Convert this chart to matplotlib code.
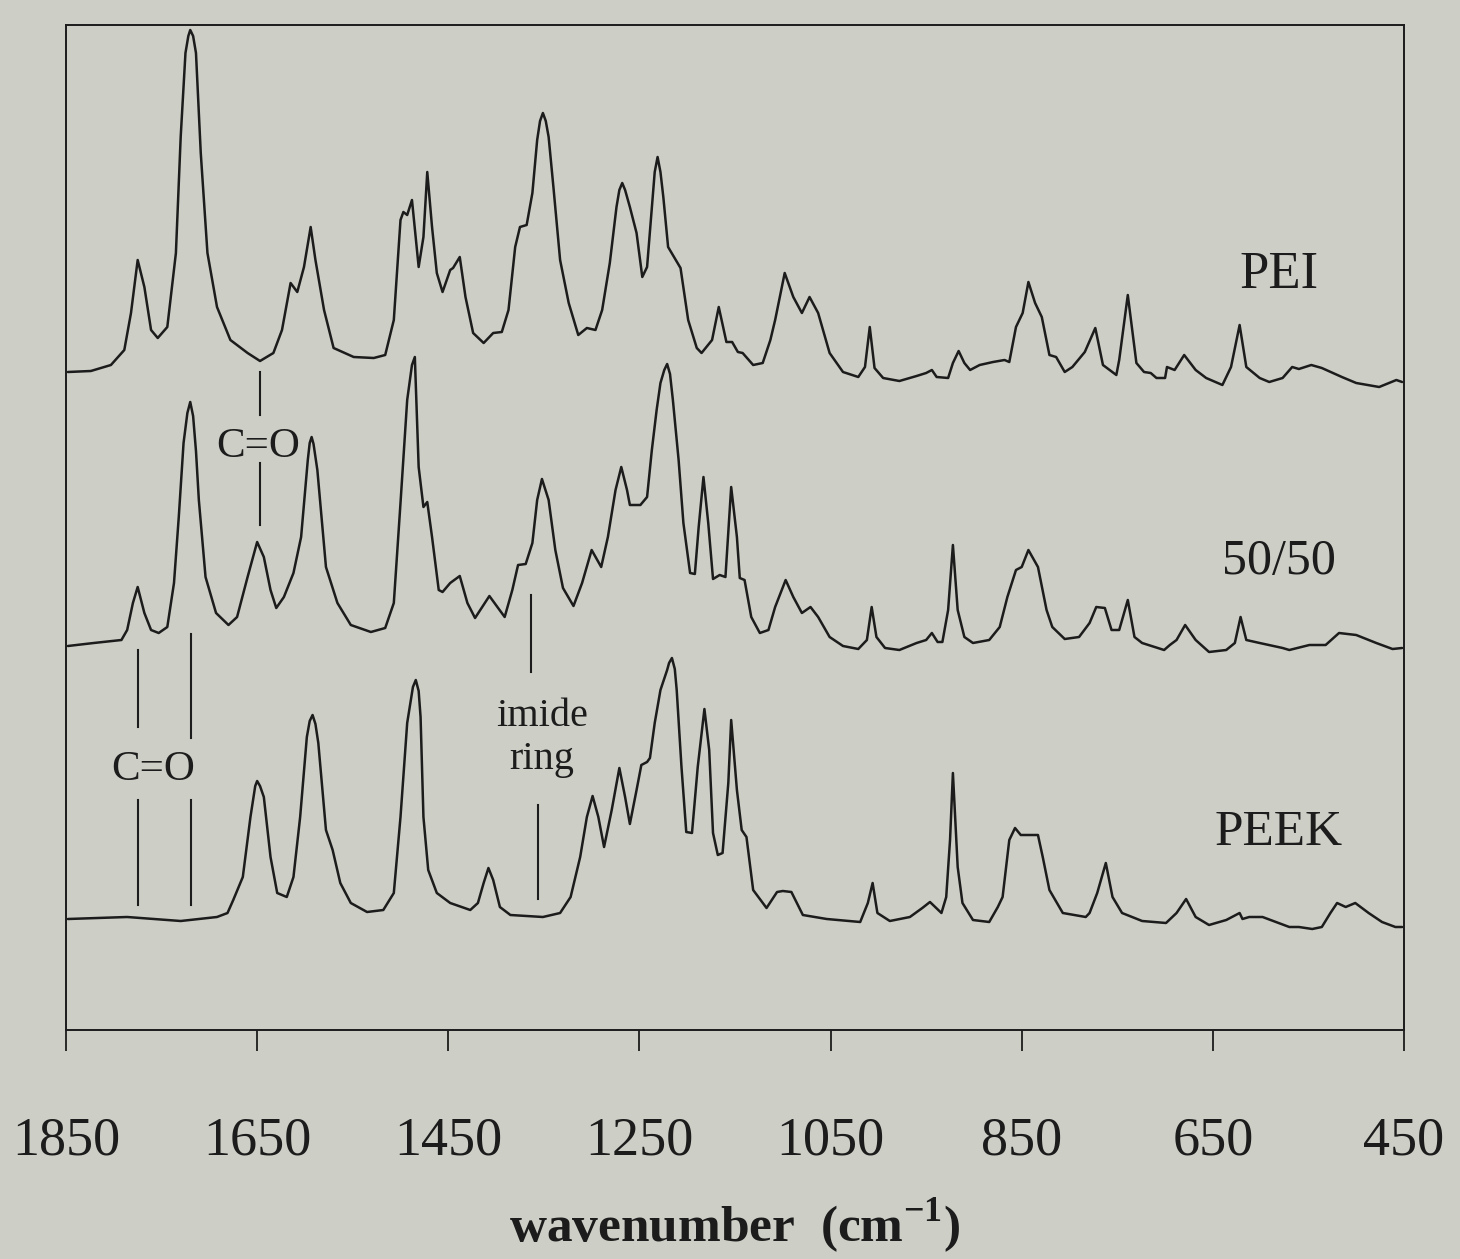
import matplotlib
matplotlib.use("Agg")
import matplotlib.pyplot as plt

# traced IR spectra: wavenumber (cm-1) and absorbance (arbitrary units, baseline = 0)
pei_wn = [1848, 1824, 1803, 1789, 1782, 1775, 1768, 1761, 1754, 1744, 1735, 1730, 1725, 1722, 1720, 1717, 1714,
          1709, 1702, 1692, 1678, 1660, 1647, 1633, 1624, 1615, 1608, 1601, 1594, 1589, 1580, 1570,
          1549, 1528, 1516, 1507, 1500, 1497, 1493, 1488, 1481, 1476, 1472, 1467, 1462, 1456, 1448,
          1445, 1438, 1432, 1424, 1413, 1403, 1394, 1387, 1380, 1375, 1368, 1362, 1357, 1354, 1351, 1348, 1345,
          1340, 1333, 1324, 1314, 1305, 1296, 1289, 1281, 1274, 1271, 1268, 1265, 1260, 1253, 1247, 1242, 1237,
          1234, 1231, 1228, 1225, 1220, 1207, 1199, 1190, 1185, 1174, 1167, 1159, 1153, 1147, 1142, 1131, 1121,
          1113, 1108, 1098, 1089, 1080, 1072, 1063, 1051, 1037, 1021, 1014, 1009, 1004, 995, 978,
          960, 950, 944, 939, 927, 922, 916, 910, 904, 894, 880, 868, 863, 856, 849, 843, 836, 829,
          821, 814, 805, 797, 784, 773, 765, 751, 748, 739, 730, 722, 715, 709, 700, 698, 690, 680,
          668, 657, 640, 631, 622, 615, 601, 591, 577, 567, 560, 547, 536, 515, 500, 476, 458, 452]
pei_abs = [0, 1, 7, 22, 59, 112, 85, 42, 34, 45, 119, 235, 319, 336, 342, 336, 319,
           219, 119, 65, 32, 19, 11, 19, 42, 89, 80, 105, 145, 112, 62, 24,
           15, 14, 17, 52, 152, 160, 157, 172, 105, 135, 200, 145, 99, 80, 102,
           104, 115, 75, 39, 29, 39, 40, 62, 125, 145, 147, 179, 232, 251, 259, 251, 235,
           185, 112, 69, 37, 44, 42, 62, 109, 165, 182, 189, 182, 165, 139, 95, 105, 165,
           200, 215, 200, 175, 125, 104, 52, 24, 19, 32, 65, 30, 30, 20, 19, 7, 9,
           32, 52, 99, 75, 59, 75, 59, 19, 0, -5, 5, 45, 4, -6, -9,
           -4, -1, 2, -5, -6, 9, 21, 9, 2, 7, 10, 12, 10, 45, 59, 90, 69, 55,
           17, 15, 0, 5, 20, 44, 7, -3, 12, 77, 9, 0, -1, -6, -6, 5, 2, 17,
           2, -6, -13, 5, 47, 5, -6, -10, -6, 5, 3, 7, 4, -5, -11, -15, -8, -10]

blend_wn = [1848, 1821, 1792, 1786, 1780, 1775, 1768, 1761, 1753, 1744, 1737, 1732, 1727, 1723, 1720, 1717, 1714,
            1711, 1704, 1693, 1680, 1671, 1660, 1650, 1643, 1636, 1630, 1622, 1612, 1604, 1597, 1595, 1593, 1591,
            1587, 1578, 1566, 1552, 1531, 1516, 1507, 1500, 1493, 1488, 1485, 1481, 1476, 1472, 1467,
            1460, 1456, 1448, 1438, 1430, 1422, 1407, 1391, 1383, 1377, 1369, 1362, 1357, 1352, 1345,
            1338, 1330, 1319, 1310, 1300, 1290, 1283, 1275, 1269, 1263, 1260, 1249, 1242, 1237, 1232,
            1228, 1224, 1221, 1218, 1215, 1209, 1204, 1197, 1192, 1188, 1183, 1178, 1173, 1166, 1160, 1154, 1148,
            1145, 1140, 1133, 1124, 1115, 1108, 1097, 1089, 1080, 1071, 1063, 1051, 1037, 1021, 1012,
            1007, 1002, 993, 978, 960, 950, 944, 938, 933, 927, 922, 917, 910, 901, 884, 873, 865,
            856, 850, 843, 833, 824, 818, 805, 790, 779, 772, 763, 756, 748, 739, 732, 724, 701, 695,
            688, 679, 668, 654, 636, 627, 621, 615, 601, 577, 570, 549, 532, 518, 500, 479, 462, 452]
blend_abs = [0, 3, 6, 16, 43, 59, 33, 16, 13, 19, 63, 129, 203, 233, 244, 230, 195,
             146, 69, 33, 21, 29, 69, 104, 89, 56, 38, 49, 73, 109, 186, 203, 209, 202,
             176, 79, 43, 21, 14, 18, 43, 143, 246, 281, 289, 179, 139, 144, 109,
             56, 54, 63, 70, 43, 28, 50, 29, 56, 81, 82, 103, 146, 167, 146,
             96, 58, 40, 63, 96, 79, 109, 156, 179, 156, 141, 141, 149, 196, 236,
             263, 276, 282, 272, 246, 186, 123, 73, 72, 119, 169, 123, 67, 71, 69, 159, 109,
             68, 66, 29, 13, 16, 39, 66, 49, 33, 39, 29, 9, 0, -3, 6,
             39, 9, -2, -4, 3, 6, 13, 4, 4, 36, 101, 36, 9, 3, 6, 19, 49,
             76, 79, 96, 79, 36, 19, 7, 9, 23, 39, 38, 16, 16, 46, 9, 3, -4, 1,
             6, 21, 6, -6, -4, 3, 29, 6, 3, -2, -4, 1, 1, 13, 11, 3, -3, -2]

peek_wn = [1848, 1786, 1730, 1692, 1681, 1675, 1665, 1657, 1652, 1650, 1647, 1643, 1636, 1629, 1619, 1612, 1605,
           1598, 1595, 1592, 1589, 1586, 1578, 1571, 1563, 1552, 1535, 1518, 1507, 1500, 1493, 1487, 1484, 1481,
           1479, 1476, 1471, 1462, 1448, 1427, 1419, 1413, 1408, 1403, 1396, 1385, 1351, 1333, 1322, 1312, 1305,
           1299, 1293, 1287, 1279, 1271, 1265, 1260, 1253, 1248, 1242, 1239, 1234, 1228, 1221, 1219, 1216, 1213,
           1211, 1206, 1201, 1195, 1189, 1182, 1177, 1173, 1168, 1163, 1157, 1154, 1148, 1143, 1138,
           1131, 1117, 1106, 1100, 1091, 1079, 1054, 1019, 1011, 1006, 1001, 988, 967, 954, 946,
           934, 929, 925, 922, 917, 912, 901, 884, 875, 870, 863, 857, 851, 833, 828, 821, 807,
           783, 779, 771, 762, 755, 745, 724, 699, 688, 678, 668, 654, 636, 622, 619, 612, 598,
           584, 570, 560, 546, 536, 527, 520, 511, 501, 487, 473, 459, 452]
peek_abs = [0, 2, -2, 2, 6, 19, 42, 102, 133, 138, 133, 122, 62, 26, 22, 42, 102,
            182, 198, 204, 195, 176, 89, 69, 36, 16, 7, 9, 26, 102, 196, 232, 239, 228,
            202, 102, 49, 26, 16, 9, 16, 36, 51, 39, 12, 4, 2, 6, 22, 62, 102,
            123, 102, 72, 109, 151, 122, 95, 129, 154, 157, 161, 196, 229, 249, 256, 261, 250,
            229, 152, 87, 86, 152, 210, 169, 86, 64, 66, 136, 199, 129, 89, 82,
            29, 11, 27, 28, 27, 4, 0, -3, 16, 36, 6, -2, 2, 11, 17,
            6, 22, 79, 146, 52, 16, -1, -3, 12, 22, 79, 91, 84, 84, 62, 29, 6,
            2, 6, 26, 56, 22, 6, -2, -4, 6, 20, 2, -6, -1, 6, 0, 2, 2,
            -3, -8, -8, -10, -8, 6, 16, 12, 16, 6, -3, -8, -8]

names = ["PEI", "50/50", "PEEK"]
offsets = [658, 384, 111]
ticks = [1850, 1650, 1450, 1250, 1050, 850, 650, 450]

BG = "#cdcec6"
INK = "#1c1c1c"

plt.rcParams["font.family"] = ["Liberation Serif", "DejaVu Serif"]
plt.rcParams["mathtext.fontset"] = "custom"
plt.rcParams["mathtext.rm"] = "Liberation Serif"
plt.rcParams["mathtext.bf"] = "Liberation Serif:bold"

fig = plt.figure(figsize=(14.6, 12.59), dpi=100, facecolor=BG)
ax = fig.add_axes([66 / 1460, 1 - 1030 / 1259, 1338 / 1460, 1005 / 1259])
ax.set_facecolor(BG)

for wn, a, off in zip([pei_wn, blend_wn, peek_wn], [pei_abs, blend_abs, peek_abs], offsets):
    ax.plot(wn, [v + off for v in a], color=INK, lw=1.8,
            solid_joinstyle="round", solid_capstyle="round")

ax.set_xlim(1850, 450)
ax.set_ylim(0, 1005)
ax.set_xticks(ticks)
ax.set_xticklabels([str(t) for t in ticks])
ax.set_yticks([])
ax.tick_params(axis="x", direction="out", length=15, width=1.3, pad=47,
               labelsize=39, colors=INK)
for s in ax.spines.values():
    s.set_color(INK)
    s.set_linewidth(1.4)

ax.set_xlabel(r"wavenumber  (cm$^{\mathbf{-1}}$)", fontsize=37, fontweight="bold",
              color=INK, labelpad=22)

# sample labels
ax.text(581, 755, names[0], fontsize=38, ha="center", va="center", color=INK)
ax.text(581, 468, names[1], fontsize=36, ha="center", va="center", color=INK)
ax.text(581, 197, names[2], fontsize=37, ha="center", va="center", color=INK)

# band markers
lk = dict(color=INK, lw=1.5)
ax.plot([1647, 1647], [658, 615], **lk)
ax.plot([1647, 1647], [567, 505], **lk)
ax.text(1649, 583, "C=O", fontsize=31, ha="center", va="center", color=INK)

ax.plot([1775, 1775], [380, 303], **lk)
ax.plot([1719, 1719], [396, 292], **lk)
ax.plot([1775, 1775], [230, 125], **lk)
ax.plot([1719, 1719], [230, 125], **lk)
ax.text(1759, 260, "C=O", fontsize=31, ha="center", va="center", color=INK)

ax.plot([1363, 1363], [435, 358], **lk)
ax.plot([1356, 1356], [225, 131], **lk)
ax.text(1352, 314, "imide", fontsize=29, ha="center", va="center", color=INK)
ax.text(1352, 270, "ring", fontsize=29, ha="center", va="center", color=INK)

fig.savefig("out.png", dpi=100, facecolor=BG)
